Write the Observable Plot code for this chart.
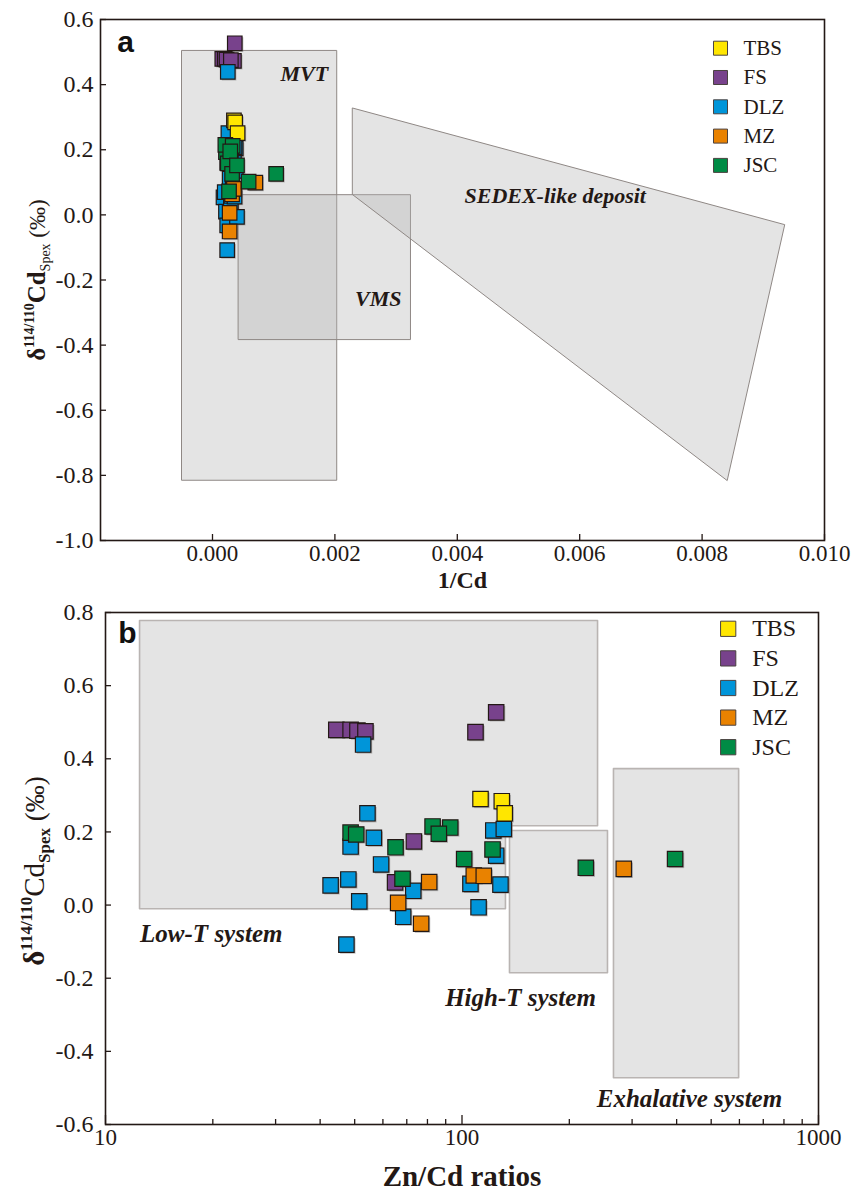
<!DOCTYPE html>
<html><head><meta charset="utf-8">
<script src="https://cdn.jsdelivr.net/npm/d3@7"></script>
<script src="https://cdn.jsdelivr.net/npm/@observablehq/plot@0.6"></script>
<style>
body{margin:0;background:#fff;}
#chart{width:862px;}
#chart svg{display:block;overflow:visible;}
</style></head><body><div id="chart"></div>
<script>
// ---------- data ----------
const groups = ["TBS", "FS", "DLZ", "MZ", "JSC"];
const groupColors = ["#FFE600", "#78428C", "#0095D9", "#E98200", "#008B45"];
const drawOrder = ["FS", "DLZ", "TBS", "MZ", "JSC"];

// δ114/110Cd (‰), 1/Cd, Zn/Cd for each sample, per group
const tbsDelta = [0.290, 0.284, 0.251];
const tbsInvCd = [0.00035, 0.00037, 0.00041];
const tbsZnCd  = [112.7, 129.3, 131.8];

const fsDelta = [0.527, 0.473, 0.479, 0.479, 0.477, 0.475, 0.174, 0.062];
const fsInvCd = [0.000364, 0.00035, 0.00016, 0.00020, 0.00023, 0.00030, 0.00030, 0.00028];
const fsZnCd  = [124.7, 109.1, 44.4, 48.7, 50.9, 53.6, 73.3, 64.9];

const dlzDelta = [0.439, 0.251, 0.160, 0.184, 0.111, 0.054, 0.070, 0.010, 0.039, -0.032, -0.108, 0.204, 0.208, 0.135, 0.058, 0.056, -0.006];
const dlzInvCd = [0.00025, 0.00026, 0.00024, 0.00035, 0.00028, 0.00018, 0.00020, 0.00022, 0.00030, 0.00024, 0.00024, 0.00038, 0.00036, 0.00038, 0.00031, 0.00036, 0.00040];
const dlzZnCd  = [52.8, 54.3, 48.7, 56.6, 59.3, 42.8, 48.0, 51.5, 73.0, 68.4, 47.4, 122.4, 131.0, 124.7, 105.6, 128.2, 111.3];

const mzDelta = [0.063, 0.006, -0.051, 0.081, 0.080, 0.099];
const mzInvCd = [0.00032, 0.00028, 0.00028, 0.00033, 0.00035, 0.00070];
const mzZnCd  = [80.9, 66.2, 76.8, 107.9, 115.1, 284.3];

const jscDelta = [0.198, 0.193, 0.158, 0.072, 0.215, 0.212, 0.195, 0.126, 0.152, 0.102, 0.126];
const jscInvCd = [0.00030, 0.00022, 0.00025, 0.00027, 0.00021, 0.00033, 0.00029, 0.00032, 0.00040, 0.00059, 0.00104];
const jscZnCd  = [48.7, 50.5, 65.1, 68.1, 82.7, 92.7, 86.1, 101.4, 121.8, 222.5, 396];

// axis ticks
const xTicksA = [0, 0.002, 0.004, 0.006, 0.008, 0.010];
const yTicksA = [-1.0, -0.8, -0.6, -0.4, -0.2, 0.0, 0.2, 0.4, 0.6];
const xMajorB = [10, 100, 1000];
const xMinorB = [20, 30, 40, 50, 60, 70, 80, 90, 200, 300, 400, 500, 600, 700, 800, 900];
const yTicksB = [-0.6, -0.4, -0.2, 0.0, 0.2, 0.4, 0.6, 0.8];

// field regions (vertices in data units)
const mvtX = [-0.0005, 0.00203, 0.00203, -0.0005];
const mvtY = [0.505, 0.505, -0.815, -0.815];
const vmsX = [0.000425, 0.003235, 0.003235, 0.000425];
const vmsY = [0.062, 0.062, -0.383, -0.383];
const sedexX = [0.00229, 0.00935, 0.00841, 0.00229];
const sedexY = [0.328, -0.030, -0.816, 0.062];

const lowTX = [12.46, 240, 240, 132.4, 132.4, 12.46];
const lowTY = [0.778, 0.778, 0.217, 0.217, -0.010, -0.010];
const highTX = [135.9, 255.9, 255.9, 135.9];
const highTY = [0.204, 0.204, -0.185, -0.185];
const exhX = [266, 597, 597, 266];
const exhY = [0.373, 0.373, -0.472, -0.472];

const labelsA = [
  {text: "MVT", x: 0.0015, y: 0.434},
  {text: "VMS", x: 0.00271, y: -0.257},
  {text: "SEDEX-like deposit", x: 0.0056, y: 0.0595}
];
const labelsB = [
  {text: "Low-T system", x: 19.8, y: -0.078},
  {text: "High-T system", x: 145.9, y: -0.253},
  {text: "Exhalative system", x: 434.5, y: -0.53}
];

// ---------- build tables ----------
const series = {
  TBS: [tbsDelta, tbsInvCd, tbsZnCd],
  FS: [fsDelta, fsInvCd, fsZnCd],
  DLZ: [dlzDelta, dlzInvCd, dlzZnCd],
  MZ: [mzDelta, mzInvCd, mzZnCd],
  JSC: [jscDelta, jscInvCd, jscZnCd]
};
const samples = drawOrder.flatMap(g => series[g][0].map((d, i) => ({
  group: g, delta: d, invCd: series[g][1][i], znCd: series[g][2][i]
})));
const poly = (name, xs, ys) => xs.map((x, i) => ({name, x, y: ys[i]}));
const regionsA = [...poly("MVT", mvtX, mvtY), ...poly("VMS", vmsX, vmsY), ...poly("SEDEX", sedexX, sedexY)];
const regionsB = [...poly("LowT", lowTX, lowTY), ...poly("HighT", highTX, highTY), ...poly("Exh", exhX, exhY)];

const INK = "#231815";
const SERIF = "Liberation Serif";
const SANS = "Liberation Sans";
const colorScale = {domain: groups, range: groupColors};

function legendMarks(x0, y0, step, r, dxText, size) {
  return groups.flatMap((g, i) => [
    Plot.dot([g], {frameAnchor: "top-left", dx: x0, dy: y0 + step * i, symbol: "square", r, fill: d => d, stroke: "#4a4240", strokeWidth: 1}),
    Plot.text([g], {frameAnchor: "top-left", dx: dxText, dy: y0 + step * i, text: d => d, textAnchor: "start", lineAnchor: "middle", fontSize: size, fontFamily: SERIF, fill: INK})
  ]);
}

function yTitle(svg, x, y, parts) {
  const t = d3.select(svg).append("text")
    .attr("transform", `translate(${x},${y}) rotate(-90)`)
    .attr("text-anchor", "middle")
    .attr("fill", INK)
    .attr("font-family", SERIF);
  parts.forEach(p => {
    t.append("tspan").attr("font-size", p.size).attr("font-weight", p.weight).attr("dy", p.dy || 0).text(p.text);
  });
}

// ---------- panel a ----------
const plotA = Plot.plot({
  width: 862, height: 592,
  marginTop: 19, marginBottom: 52, marginLeft: 100, marginRight: 38,
  x: {type: "linear", domain: [-0.00183, 0.010]},
  y: {domain: [-1.0, 0.6]},
  color: colorScale,
  style: {color: INK, background: "#fff", overflow: "visible"},
  marks: [
    Plot.line(regionsA, {x: "x", y: "y", z: "name", curve: "linear-closed", fill: "#b4b4b4", fillOpacity: 0.36, stroke: "#8f8885", strokeWidth: 1}),
    Plot.text(labelsA, {x: "x", y: "y", text: "text", fontStyle: "italic", fontWeight: "bold", fontSize: 22, fontFamily: SERIF, fill: INK}),
    Plot.dot(samples, {x: "invCd", y: "delta", symbol: "square", r: 8.2, dx: 1.3, dy: 1.3, fill: "#6d6d6d", fillOpacity: 0.45}),
    Plot.dot(samples, {x: "invCd", y: "delta", symbol: "square", r: 8.2, fill: "group", stroke: INK, strokeWidth: 1.2}),
    Plot.axisY(yTicksA, {tickSize: -6, tickPadding: 13, tickFormat: d => d.toFixed(1), fontSize: 24, fontFamily: SERIF, label: null, stroke: INK, strokeWidth: 1.3}),
    Plot.axisX(xTicksA, {tickSize: -6, tickPadding: 10, tickFormat: d => d.toFixed(3), fontSize: 23, fontFamily: SERIF, label: null, stroke: INK, strokeWidth: 1.3}),
    Plot.frame({stroke: INK, strokeWidth: 1.6}),
    Plot.text(["1/Cd"], {frameAnchor: "bottom", dy: 40, lineAnchor: "middle", fontWeight: "bold", fontSize: 24, fontFamily: SERIF, fill: INK}),
    Plot.text(["a"], {frameAnchor: "top-left", dx: 25, dy: 23, lineAnchor: "middle", textAnchor: "middle", fontFamily: SANS, fontWeight: "bold", fontSize: 30, fill: "#111"}),
    ...legendMarks(620, 28.7, 29.3, 7.9, 643, 21)
  ]
});
yTitle(plotA, 45, 280, [
  {text: "δ", size: 25, weight: "bold"},
  {text: "114/110", size: 14, weight: "bold", dy: -11},
  {text: "Cd", size: 25, weight: "bold", dy: 11},
  {text: "Spex", size: 14, weight: "normal", dy: 5},
  {text: " (‰)", size: 23, weight: "normal", dy: -5}
]);

// ---------- panel b ----------
const plotB = Plot.plot({
  width: 862, height: 598,
  marginTop: 20, marginBottom: 66, marginLeft: 105, marginRight: 44,
  x: {type: "log", domain: [10, 1000]},
  y: {domain: [-0.6, 0.8]},
  color: colorScale,
  style: {color: INK, background: "#fff", overflow: "visible"},
  marks: [
    Plot.line(regionsB, {x: "x", y: "y", z: "name", curve: "linear-closed", fill: "#e4e4e4", stroke: "#b9b4b2", strokeWidth: 1.6}),
    Plot.text(labelsB, {x: "x", y: "y", text: "text", fontStyle: "italic", fontWeight: "bold", fontSize: 25, fontFamily: SERIF, fill: INK}),
    Plot.dot(samples, {x: "znCd", y: "delta", symbol: "square", r: 8.7, dx: 1.4, dy: 1.4, fill: "#6d6d6d", fillOpacity: 0.45}),
    Plot.dot(samples, {x: "znCd", y: "delta", symbol: "square", r: 8.7, fill: "group", stroke: INK, strokeWidth: 1.2}),
    Plot.axisY(yTicksB, {tickSize: -6, tickPadding: 18, tickFormat: d => d.toFixed(1), fontSize: 24, fontFamily: SERIF, label: null, stroke: INK, strokeWidth: 1.3}),
    Plot.axisX(xMinorB, {tickSize: -5, tickFormat: () => "", label: null, stroke: INK, strokeWidth: 1.3}),
    Plot.axisX(xMajorB, {tickSize: -9, tickPadding: 13, tickFormat: d => String(d), fontSize: 23, fontFamily: SERIF, label: null, stroke: INK, strokeWidth: 1.3}),
    Plot.frame({stroke: INK, strokeWidth: 1.6}),
    Plot.text(["Zn/Cd ratios"], {frameAnchor: "bottom", dy: 52, lineAnchor: "middle", fontWeight: "bold", fontSize: 29, fontFamily: SERIF, fill: INK}),
    Plot.text(["b"], {frameAnchor: "top-left", dx: 22, dy: 21, lineAnchor: "middle", textAnchor: "middle", fontFamily: SANS, fontWeight: "bold", fontSize: 30, fill: "#111"}),
    ...legendMarks(622.7, 16.3, 29.6, 8.6, 646.7, 24)
  ]
});
yTitle(plotB, 44, 279, [
  {text: "δ", size: 29, weight: "bold"},
  {text: "114/110", size: 17, weight: "bold", dy: -12},
  {text: "Cd", size: 29, weight: "normal", dy: 12},
  {text: "Spex", size: 17, weight: "bold", dy: 6},
  {text: " (‰)", size: 27, weight: "normal", dy: -6}
]);

document.getElementById("chart").append(plotA, plotB);
</script></body></html>
